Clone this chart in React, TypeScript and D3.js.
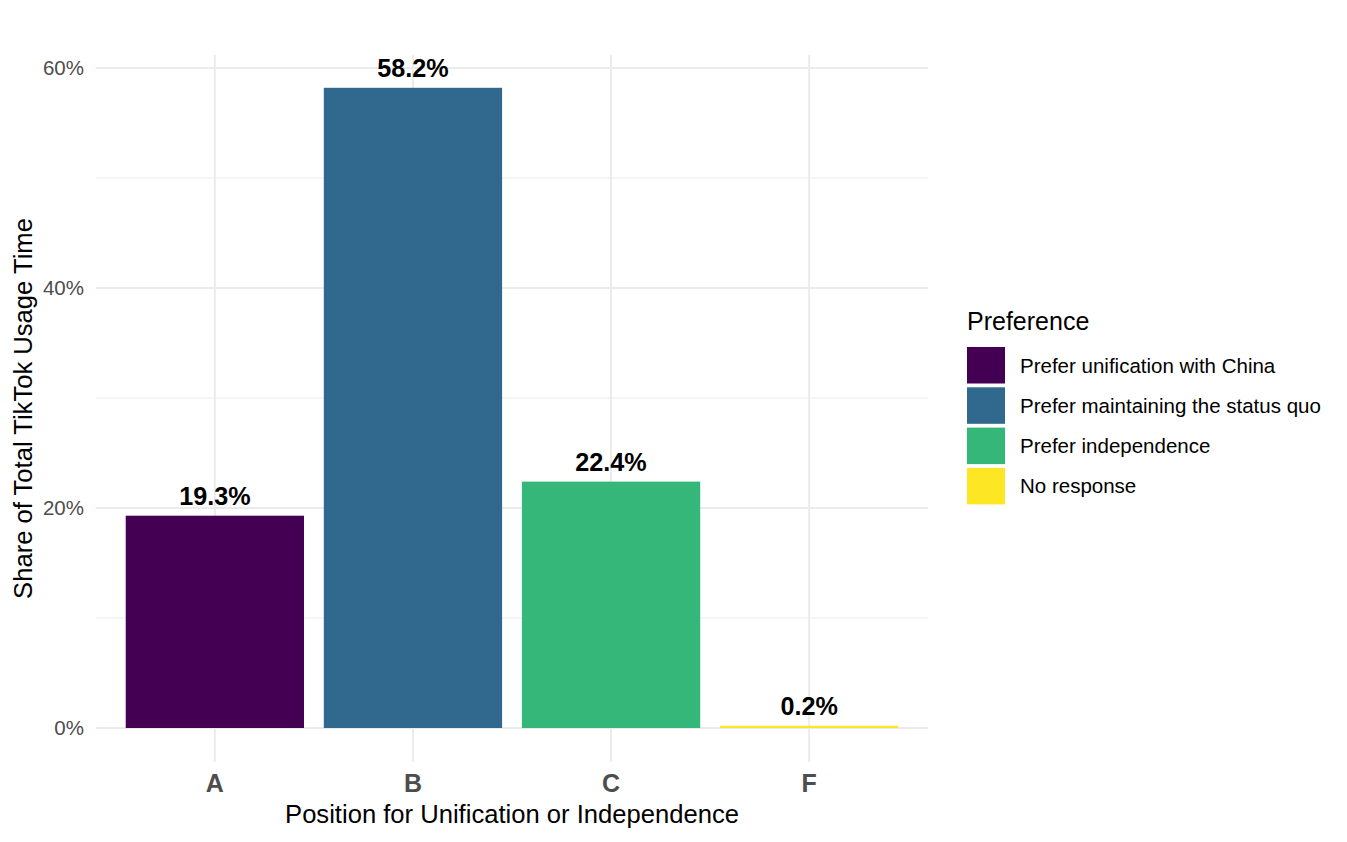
import React from 'react'
import * as d3 from 'd3'

const categories = ['A', 'B', 'C', 'F']
const shares = [0.193, 0.582, 0.224, 0.002]
const preferences = [
  'Prefer unification with China',
  'Prefer maintaining the status quo',
  'Prefer independence',
  'No response',
]
const colors = ['#440154', '#31688E', '#35B779', '#FDE725']
const majorTicks = [0, 0.2, 0.4, 0.6]
const minorTicks = [0.1, 0.3, 0.5]

const width = 1347
const height = 842
const panel = { left: 96, right: 928, top: 55, bottom: 762 }
const font = '"Liberation Sans", Arial, Helvetica, sans-serif'

export default function App() {
  // discrete axis like ggplot: 0.6 units expansion each side, bars 0.9 wide
  const x = d3
    .scalePoint<string>()
    .domain(categories)
    .range([panel.left, panel.right])
    .padding(0.6)
  const barW = x.step() * 0.9

  const y = d3.scaleLinear().domain([0, 0.6]).range([728, 68])
  const pct = d3.format('.0%')

  return (
    <svg width={width} height={height} style={{ position: 'absolute', left: 0, top: 0 }} fontFamily={font}>
      <rect width={width} height={height} fill="#fff" />
      {minorTicks.map(t => (
        <line key={'mn' + t} x1={panel.left} x2={panel.right} y1={y(t)} y2={y(t)} stroke="#ebebeb" strokeWidth={1} />
      ))}
      {majorTicks.map(t => (
        <line key={'mj' + t} x1={panel.left} x2={panel.right} y1={y(t)} y2={y(t)} stroke="#ebebeb" strokeWidth={2} />
      ))}
      {categories.map(c => (
        <line key={'v' + c} x1={x(c)} x2={x(c)} y1={panel.top} y2={panel.bottom} stroke="#ebebeb" strokeWidth={2} />
      ))}
      {categories.map((c, i) => (
        <g key={c}>
          <rect x={x(c)! - barW / 2} y={y(shares[i])} width={barW} height={y(0) - y(shares[i])} fill={colors[i]} />
          <text x={x(c)} y={y(shares[i]) - 11} textAnchor="middle" fontSize={25.2} fontWeight="bold" fill="#000">
            {(shares[i] * 100).toFixed(1) + '%'}
          </text>
          <text x={x(c)} y={792} textAnchor="middle" fontSize={25} fontWeight="bold" fill="#4d4d4d">
            {c}
          </text>
        </g>
      ))}
      {majorTicks.map(t => (
        <text key={'yl' + t} x={84} y={y(t) + 7} textAnchor="end" fontSize={20.5} fill="#4d4d4d">
          {pct(t)}
        </text>
      ))}
      <text x={512} y={823} textAnchor="middle" fontSize={25.6} fill="#000">
        Position for Unification or Independence
      </text>
      <text transform={`translate(32, ${(panel.top + panel.bottom) / 2}) rotate(-90)`} textAnchor="middle" fontSize={25.6} fill="#000">
        Share of Total TikTok Usage Time
      </text>
      <text x={967} y={330} fontSize={25} fill="#000">Preference</text>
      {preferences.map((p, i) => (
        <g key={p} transform={`translate(967, ${347 + i * 40.3})`}>
          <rect width={38} height={36.5} fill={colors[i]} />
          <text x={53} y={25.5} fontSize={20.5} fill="#000">{p}</text>
        </g>
      ))}
    </svg>
  )
}
